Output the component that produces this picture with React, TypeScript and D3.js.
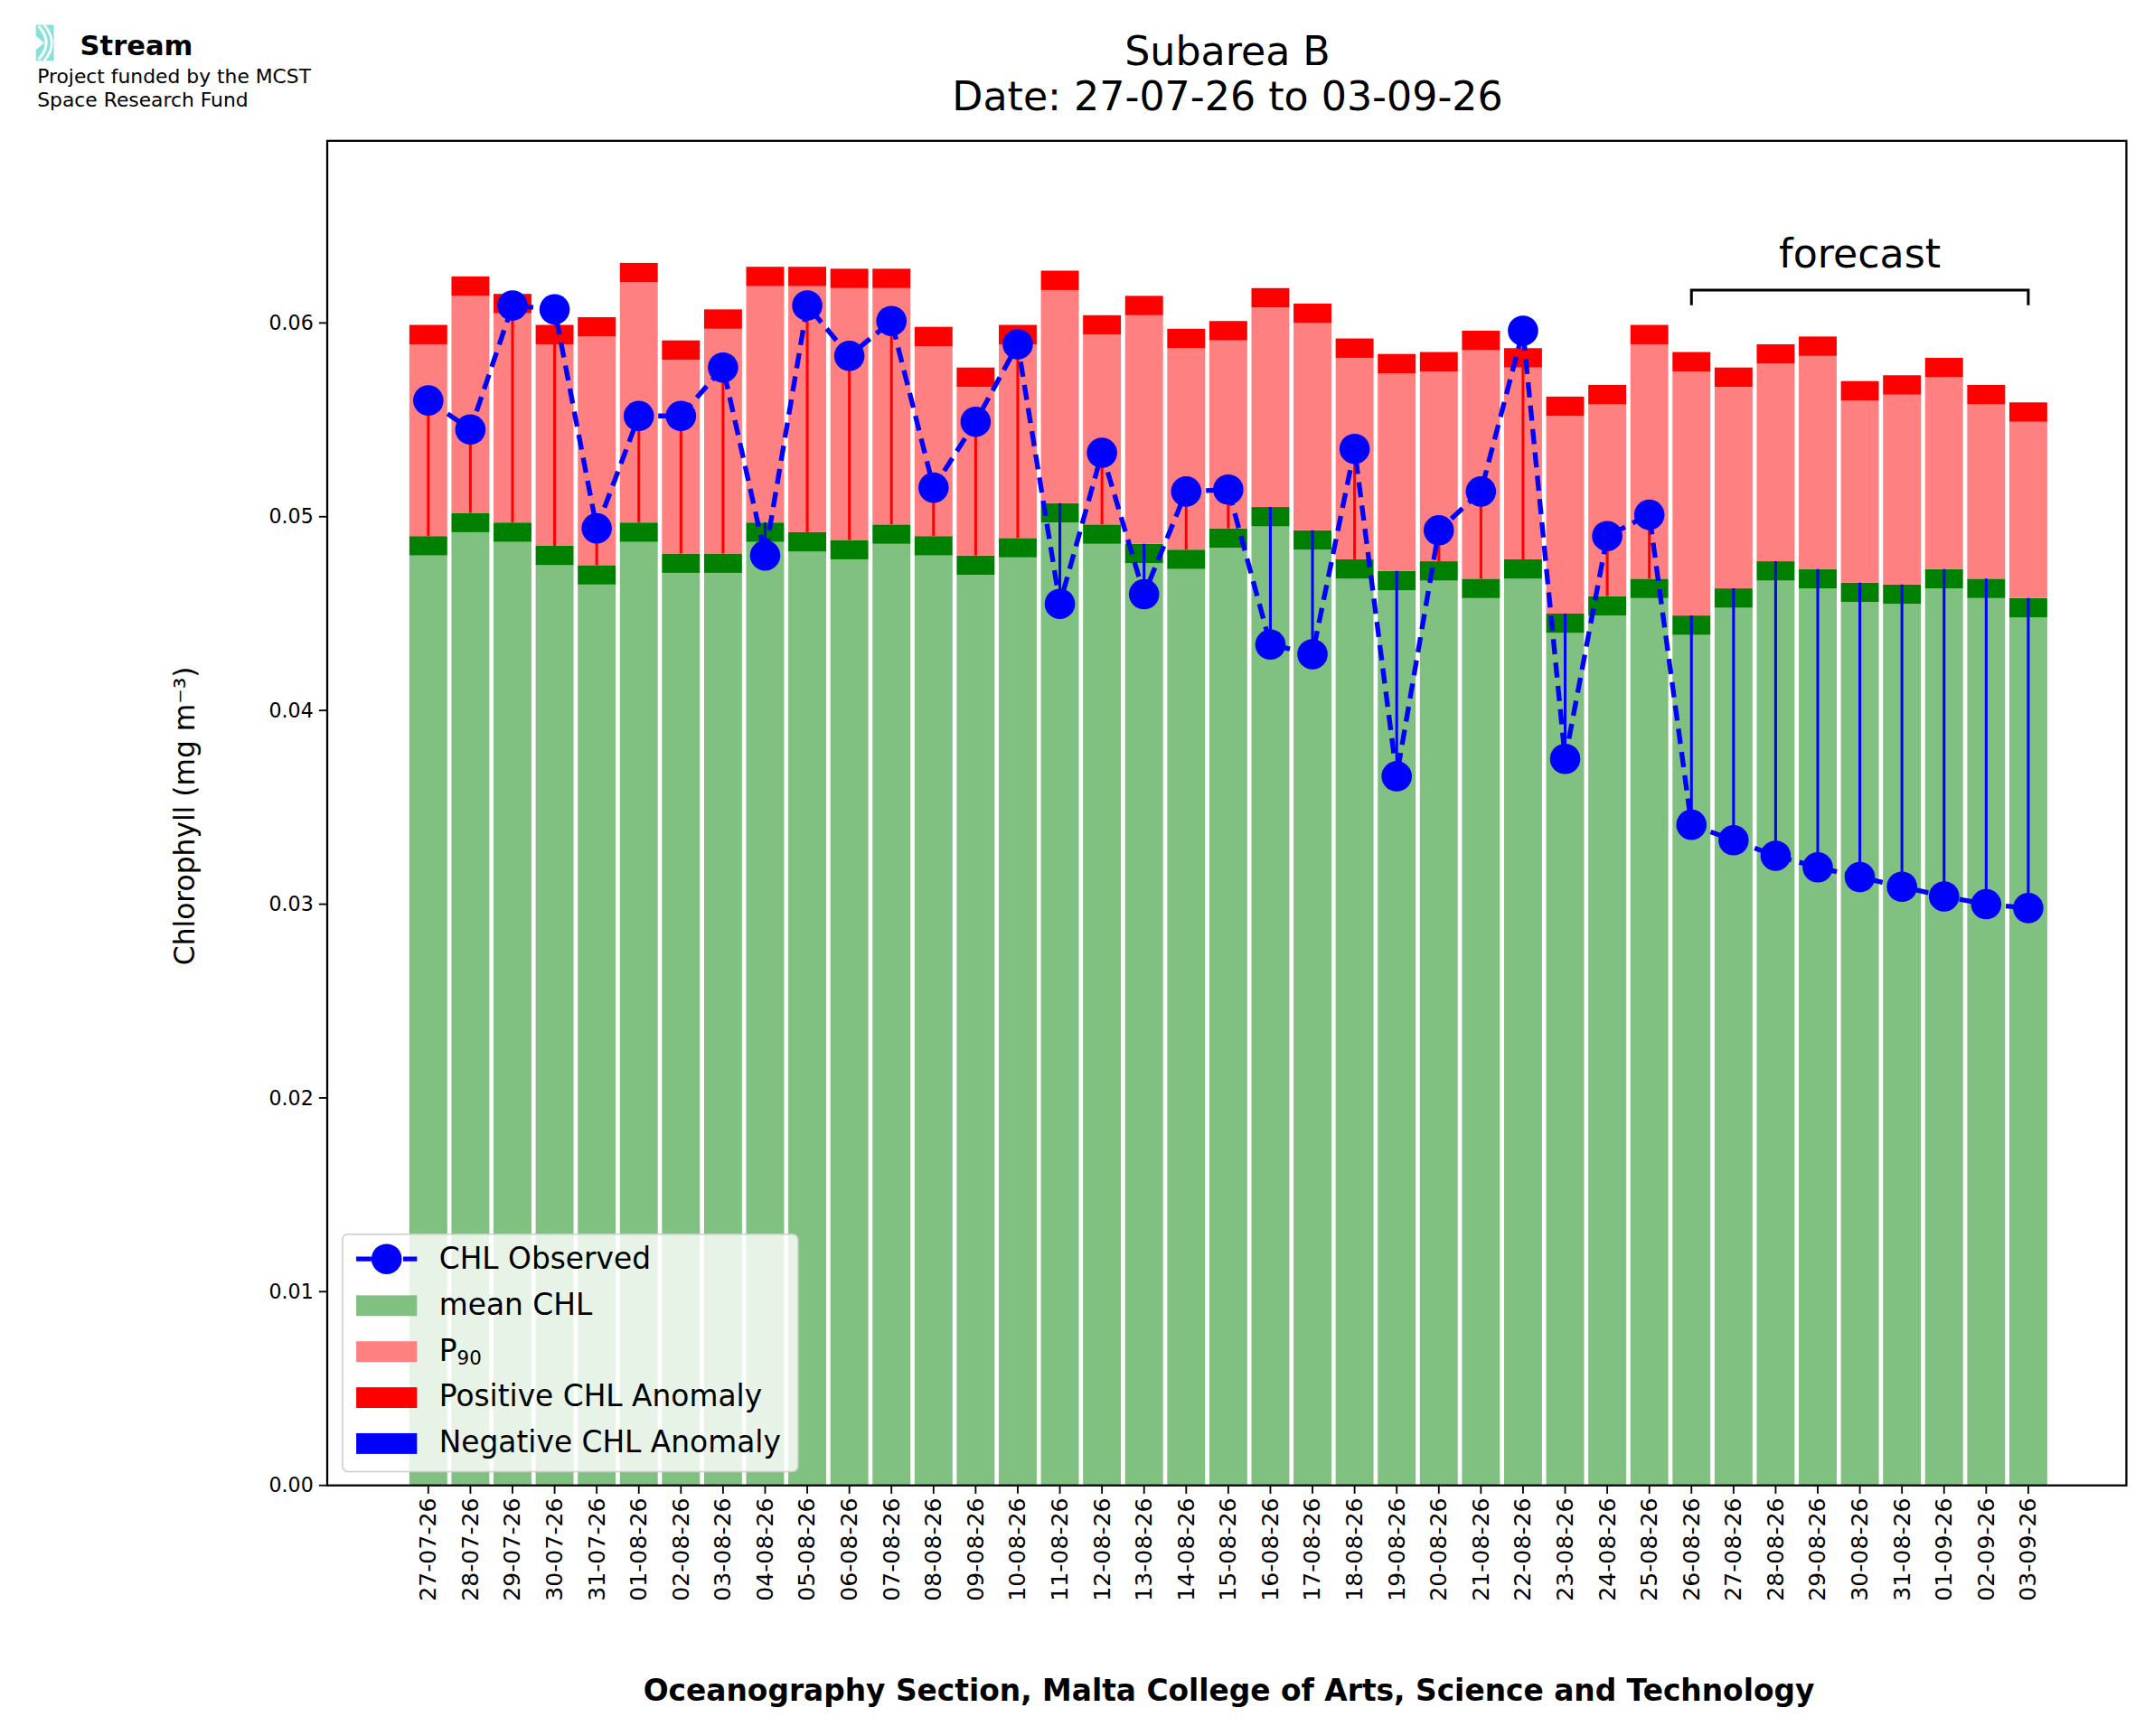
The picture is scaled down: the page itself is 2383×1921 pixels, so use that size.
import * as d3 from 'd3';

const dates = ['27-07-26','28-07-26','29-07-26','30-07-26','31-07-26','01-08-26','02-08-26','03-08-26','04-08-26','05-08-26','06-08-26','07-08-26','08-08-26','09-08-26','10-08-26','11-08-26','12-08-26','13-08-26','14-08-26','15-08-26','16-08-26','17-08-26','18-08-26','19-08-26','20-08-26','21-08-26','22-08-26','23-08-26','24-08-26','25-08-26','26-08-26','27-08-26','28-08-26','29-08-26','30-08-26','31-08-26','01-09-26','02-09-26','03-09-26'];
const meanChl = [0.0490,0.0502,0.0497,0.0485,0.0475,0.0497,0.0481,0.0481,0.0497,0.0492,0.0488,0.0496,0.0490,0.0480,0.0489,0.0507,0.0496,0.0486,0.0483,0.0494,0.0505,0.0493,0.0478,0.0472,0.0477,0.0468,0.0478,0.0450,0.0459,0.0468,0.0449,0.0463,0.0477,0.0473,0.0466,0.0465,0.0473,0.0468,0.0458];
const p90 = [0.0599,0.0624,0.0615,0.0599,0.0603,0.0631,0.0591,0.0607,0.0629,0.0629,0.0628,0.0628,0.0598,0.0577,0.0599,0.0627,0.0604,0.0614,0.0597,0.0601,0.0618,0.0610,0.0592,0.0584,0.0585,0.0596,0.0587,0.0562,0.0568,0.0599,0.0585,0.0577,0.0589,0.0593,0.0570,0.0573,0.0582,0.0568,0.0559];
const observed = [0.0560,0.0545,0.0609,0.0607,0.0494,0.0552,0.0552,0.0577,0.0480,0.0609,0.0583,0.0601,0.0515,0.0549,0.0589,0.0455,0.0533,0.0460,0.0513,0.0514,0.0434,0.0429,0.0535,0.0366,0.0493,0.0513,0.0596,0.0375,0.0490,0.0501,0.0341,0.0333,0.0325,0.0319,0.0314,0.0309,0.0304,0.0300,0.0298];
const yTicks = [0, 0.01, 0.02, 0.03, 0.04, 0.05, 0.06];
const forecastStart = 30;
const band = 0.001;

const W = 1560, H = 1257.5;
const L = 237, R = 1540, T = 102, B = 1076;

export default function App() {
  const x = d3.scaleLinear().domain([-2.4, 40.33]).range([L, R]);
  const y = d3.scaleLinear().domain([0, 0.0694]).range([B, T]);
  const bw = (x(1) - x(0)) * 0.9;
  const line = d3.line<number>().x((_, i) => x(i)).y(d => y(d));
  const font = 'DejaVu Sans';
  const legend = [
    { k: 'line', t: 'CHL Observed' },
    { k: '#80c080', t: 'mean CHL' },
    { k: '#ff8080', t: 'P90' },
    { k: '#ff0000', t: 'Positive CHL Anomaly' },
    { k: '#0000ff', t: 'Negative CHL Anomaly' },
  ];
  return (
    <svg width={2383} height={1921} viewBox={`0 0 ${W} ${H}`} style={{ position: 'absolute', left: 0, top: 0, background: '#fff' }} fontFamily={font}>
      {/* logo */}
      <g>
        <rect x={26} y={18} width={13} height={26} fill="#88e0da" />
        <path d="M26,26 L32,31 L26,36 Z" fill="#fff" />
        <path d="M28,19 Q39,31 28,43" fill="none" stroke="#fff" strokeWidth={2} />
        <path d="M32,18 Q43,31 32,44" fill="none" stroke="#fff" strokeWidth={1.8} />
        <text x={58} y={40} fontSize={20} fontWeight="bold">Stream</text>
        <text x={27} y={60} fontSize={14.3}>Project funded by the MCST</text>
        <text x={27} y={77} fontSize={14.3}>Space Research Fund</text>
      </g>
      <text x={889} y={47} fontSize={29} textAnchor="middle">Subarea B</text>
      <text x={889} y={80} fontSize={29} textAnchor="middle">Date: 27-07-26 to 03-09-26</text>
      {dates.map((d, i) => {
        const cx = x(i), m = meanChl[i], p = p90[i], o = observed[i];
        return (
          <g key={d}>
            <rect x={cx - bw / 2} y={y(m - band)} width={bw} height={y(0) - y(m - band)} fill="#80c080" />
            <rect x={cx - bw / 2} y={y(m)} width={bw} height={y(m - band) - y(m)} fill="#008000" />
            <rect x={cx - bw / 2} y={y(p - band)} width={bw} height={y(m) - y(p - band)} fill="#ff8080" />
            <rect x={cx - bw / 2} y={y(p)} width={bw} height={y(p - band) - y(p)} fill="#ff0000" />
            <line x1={cx} x2={cx} y1={y(m)} y2={y(o)} stroke={o > m ? '#ff0000' : '#0000ff'} strokeWidth={2} />
          </g>
        );
      })}
      <path d={line(observed) ?? ''} fill="none" stroke="#0000ff" strokeWidth={3.5} strokeDasharray="11,6" />
      {observed.map((o, i) => <circle key={i} cx={x(i)} cy={y(o)} r={11} fill="#0000ff" />)}
      {/* forecast bracket */}
      <path d={`M${x(forecastStart)},${y(0.0617) + 11} V${y(0.0617)} H${x(dates.length - 1)} V${y(0.0617) + 11}`} fill="none" stroke="#000" strokeWidth={2} />
      <text x={(x(forecastStart) + x(dates.length - 1)) / 2} y={y(0.0617) - 16} fontSize={29} textAnchor="middle">forecast</text>
      {/* axes */}
      <rect x={L} y={T} width={R - L} height={B - T} fill="none" stroke="#000" strokeWidth={1.5} />
      {yTicks.map(t => (
        <g key={t}>
          <line x1={L - 6} x2={L} y1={y(t)} y2={y(t)} stroke="#000" strokeWidth={1.2} />
          <text x={L - 10} y={y(t) + 5} fontSize={14.5} textAnchor="end">{t.toFixed(2)}</text>
        </g>
      ))}
      {dates.map((d, i) => (
        <g key={d}>
          <line x1={x(i)} x2={x(i)} y1={B} y2={B + 6} stroke="#000" strokeWidth={1.2} />
          <text transform={`translate(${x(i) + 5.5},${B + 9}) rotate(-90)`} fontSize={16.5} textAnchor="end">{d}</text>
        </g>
      ))}
      <text transform={`translate(141,${(T + B) / 2 + 2}) rotate(-90)`} fontSize={20.5} textAnchor="middle">Chlorophyll (mg m⁻³)</text>
      <text x={890} y={1232} fontSize={21.5} fontWeight="bold" textAnchor="middle">Oceanography Section, Malta College of Arts, Science and Technology</text>
      {/* legend */}
      <rect x={248} y={894} width={330} height={172} rx={4} fill="#fff" fillOpacity={0.8} stroke="#ccc" />
      {legend.map((e, i) => {
        const ly = 912 + i * 33.3;
        return (
          <g key={e.t}>
            {e.k === 'line' ? (
              <g>
                <line x1={258} x2={302} y1={ly} y2={ly} stroke="#0000ff" strokeWidth={3.5} strokeDasharray="11,6" />
                <circle cx={280} cy={ly} r={11} fill="#0000ff" />
              </g>
            ) : (
              <rect x={258} y={ly - 7} width={44} height={15} fill={e.k} />
            )}
            {e.t === 'P90' ? (
              <text x={318} y={ly + 7} fontSize={21.5}>P<tspan fontSize={14} dy={3}>90</tspan></text>
            ) : (
              <text x={318} y={ly + 7} fontSize={21.5}>{e.t}</text>
            )}
          </g>
        );
      })}
    </svg>
  );
}
